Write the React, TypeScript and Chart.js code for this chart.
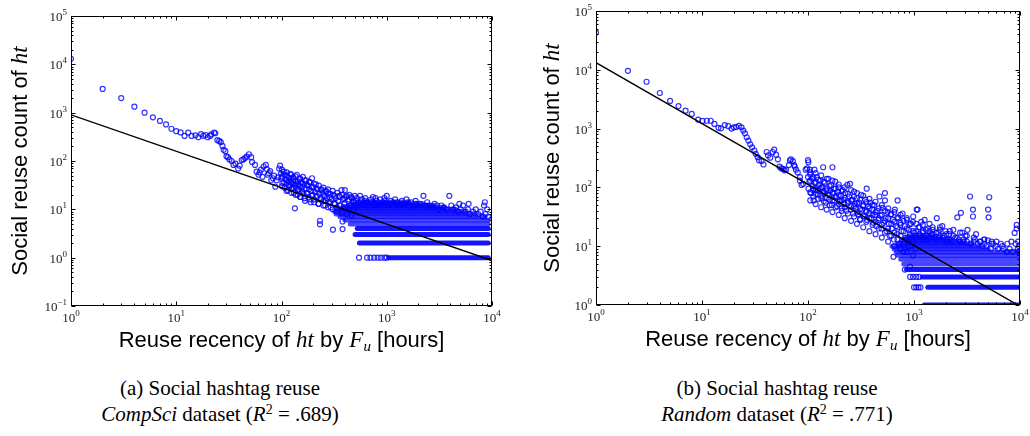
import React, { useEffect, useRef } from "react";
import { Chart, registerables } from "chart.js";
Chart.register(...registerables);

// ---------- tick exponents ----------
const xTickExponents = [0, 1, 2, 3, 4];
const compSciYExponents = [-1, 0, 1, 2, 3, 4, 5];
const randomYExponents = [0, 1, 2, 3, 4, 5];

// ---------- (a) CompSci dataset ----------
const compSciHead: [number, number][] = [
  [1, 13000], [2, 3100], [3, 2000], [4, 1330], [5, 1000], [6, 800], [7, 675], [8, 570], [9, 465], [10, 415],
  [11, 390], [12, 330], [13, 385], [14, 330], [15.2, 340], [16.2, 310], [17.2, 360], [18.1, 330], [19, 345], [19.9, 310],
  [21, 330], [21.5, 355], [22.9, 385], [23.5, 375], [24.6, 270], [25.6, 260], [26.5, 245], [27.5, 205], [28.2, 170], [29.3, 160],
  [30, 125], [31, 120], [32, 108], [33.6, 100], [35, 83], [36.5, 88], [38.7, 70], [40, 80], [41.9, 105], [43.5, 108],
  [45, 115], [46.7, 123], [49, 138], [51.5, 120], [52.5, 95], [56, 83], [58, 60], [60.5, 52], [62, 58], [64, 66],
  [66, 47], [67.6, 77], [71, 83], [72.5, 68], [74, 52], [76, 56], [78, 62], [80, 40], [83, 44], [85, 50],
  [87.4, 29.4], [90, 40], [93, 46], [95, 70], [97, 80], [99, 55],
];
const compSciCloud: [number, number][] = [
  [100, 45], [102, 35], [105, 60], [107, 28], [109, 42], [111, 33], [113, 50], [115, 25], [117, 38], [119, 30],
  [121, 54], [123, 40], [125, 27], [127, 34], [129, 46], [131, 22], [133, 31], [134, 10.5], [136, 38], [138, 28],
  [140, 52], [142, 20], [144, 33], [146, 26], [148, 42], [150, 30], [152, 18], [154, 36], [156, 24], [158, 29],
  [160, 47], [162, 21], [165, 33], [167, 15], [170, 27], [172, 40], [175, 22], [178, 31], [180, 18], [183, 26],
  [186, 36], [189, 14], [192, 24], [195, 44], [198, 20], [201, 29], [204, 16], [208, 23], [212, 33], [216, 19],
  [220, 26], [224, 13], [228, 21], [232, 5.8], [232, 4.9], [236, 17], [240, 26], [245, 22], [250, 15], [255, 19],
  [260, 12], [265, 24], [270, 17], [276, 21], [282, 14], [288, 18], [294, 11], [300, 16], [308, 3.8], [310, 20],
  [318, 13], [326, 17], [335, 11], [345, 15], [355, 19], [365, 12], [372, 25], [380, 5.6], [380, 3.9], [385, 16],
  [395, 13], [400, 25], [410, 18], [420, 11], [430, 15], [440, 20], [452, 12], [465, 17], [480, 14], [495, 19],
  [510, 15], [530, 12], [557, 19], [580, 16], [600, 13], [625, 17], [650, 14], [680, 12], [710, 16], [740, 18],
  [770, 13], [800, 15], [830, 12], [870, 16], [910, 14], [950, 17], [1000, 19], [1040, 13], [1090, 15], [1140, 12],
  [1200, 16], [1260, 14], [1320, 12], [1390, 15], [1460, 13], [1540, 16], [1620, 12], [1700, 14], [1790, 12], [1880, 15],
  [1980, 12], [2080, 13], [2230, 19], [2300, 12], [2420, 14], [2550, 12], [2700, 11], [2850, 13], [3000, 12], [3150, 10],
  [3300, 12], [3500, 11], [3700, 10], [3930, 19], [4100, 12], [4300, 10], [4550, 11], [4800, 9], [4900, 13], [5050, 10],
  [5300, 12], [5600, 9], [5900, 10], [6000, 13], [6200, 8], [6600, 9], [7000, 10], [7400, 8], [7800, 9], [8200, 7],
  [8400, 12], [8550, 14], [8700, 8], [9000, 10], [9200, 7],
  [545, 1], [650, 1], [700, 1], [760, 1], [820, 1], [880, 1], [950, 1], [1000, 1],
];
const compSciCore: [number, number][] = [
  [101, 30], [101, 48], [101, 66], [106, 36], [106, 52], [112, 24], [112, 40], [112, 58], [118, 32], [118, 45],
  [124, 22], [124, 36], [124, 52], [130, 28], [130, 42], [136, 20], [136, 33], [136, 48], [143, 25], [143, 38],
  [150, 18], [150, 44], [158, 22], [158, 34], [166, 17], [166, 40], [175, 21], [175, 32], [184, 16], [184, 37],
  [194, 19], [194, 29], [204, 14], [204, 34], [215, 18], [215, 27], [226, 13], [226, 31], [238, 16], [238, 25],
  [250, 12], [250, 28], [263, 15], [263, 23], [277, 11], [277, 26], [291, 14], [291, 21], [306, 10], [306, 24],
  [322, 13], [322, 19], [339, 9], [339, 22], [357, 12], [357, 18], [375, 8.5], [375, 20], [395, 11], [395, 17],
  [416, 8], [416, 19], [438, 10], [438, 16], [461, 7.5], [461, 18], [485, 9.5], [485, 15], [520, 17], [560, 14],
  [620, 15], [700, 14], [780, 17], [880, 13], [960, 15], [1150, 14], [1350, 13], [1600, 14], [1900, 13], [2400, 12],
];
// [count, first hour, last hour] of the dense integer-count rows
const compSciRows: [number, number, number][] = [
  [1, 1050, 9200], [2, 550, 9200], [3, 500, 9200], [4, 525, 9200], [5, 450, 9200], [6, 400, 9200],
  [7, 360, 8500], [8, 330, 7000], [9, 320, 5500], [10, 330, 4500], [11, 380, 3500], [12, 430, 2800],
  [13, 480, 2200], [14, 540, 1600],
];
const compSciFit: [number, number][] = [[1, 900], [10000, 0.87]];

// ---------- (b) Random dataset ----------
const randomHead: [number, number][] = [
  [1, 43000], [2, 9600], [3, 6260], [4, 4030], [5, 2950], [6, 2420], [7, 2020], [8, 1775], [9.2, 1420], [10.1, 1350],
  [11.1, 1360], [12.1, 1360], [13.1, 1200], [14.3, 1030], [15.1, 1010], [16.4, 1150], [17.7, 1100], [19, 1000], [20, 1050], [21, 1060],
  [22.3, 1110], [23.6, 1050], [24.5, 925], [25.4, 830], [26.4, 713], [27.4, 625], [28.5, 540], [29.7, 480], [31.2, 424], [32.1, 372],
  [33.5, 327], [34.5, 290], [36.5, 280], [38, 245], [40.7, 400], [42, 350], [44, 320], [46.5, 400], [48, 440], [50, 360],
  [52, 300], [54, 225], [56, 210], [58, 207], [60, 195], [62, 200], [66, 240], [67.5, 287], [69, 300], [72, 280],
  [74, 240], [75, 225], [77, 200], [80, 180], [84, 150], [84, 130], [87, 110], [90, 115], [95, 200], [98, 210],
];
const randomCloud: [number, number][] = [
  [100, 290], [100, 150], [101, 268], [101, 95], [103, 125], [104, 200], [105, 180], [107, 80], [109, 140], [111, 105],
  [112, 89], [113, 60], [115, 200], [117, 120], [119, 90], [121, 150], [124, 75], [126, 110], [129, 95], [131, 130],
  [134, 65], [137, 100], [139, 220], [141, 85], [144, 120], [147, 55], [150, 95], [153, 75], [156, 140], [159, 62],
  [162, 88], [165, 110], [168, 50], [170, 220], [172, 78], [175, 95], [178, 60], [181, 125], [185, 70], [188, 48],
  [192, 85], [196, 100], [200, 58], [204, 72], [208, 44], [212, 90], [216, 62], [220, 52], [225, 80], [230, 40],
  [235, 110], [240, 58], [245, 70], [249, 115], [254, 48], [260, 62], [266, 36], [272, 85], [278, 52], [284, 44],
  [290, 66], [296, 35], [303, 55], [310, 28], [317, 75], [324, 42], [331, 50], [338, 32], [346, 62], [354, 40],
  [358, 95], [362, 28], [370, 48], [378, 36], [386, 55], [395, 30], [404, 42], [413, 25], [422, 50], [432, 34],
  [442, 22], [452, 40], [462, 28], [472, 70], [483, 33], [494, 20], [505, 45], [516, 25], [532, 80], [532, 60],
  [540, 30], [552, 18], [565, 38], [578, 24], [590, 15], [604, 35], [618, 20], [632, 28], [640, 6.6], [646, 13],
  [660, 42], [676, 22], [692, 16], [700, 60], [710, 30], [727, 11], [744, 25], [762, 18], [780, 36], [798, 8],
  [816, 22], [835, 14], [855, 28], [875, 10], [895, 19], [915, 4.5], [937, 24], [960, 13], [983, 32], [1006, 17],
  [1030, 9], [1060, 42], [1080, 42], [1100, 21], [1130, 15], [1170, 26], [1210, 18], [1260, 28], [1300, 13], [1350, 20],
  [1400, 24], [1450, 16], [1500, 19], [1560, 14], [1640, 30], [1700, 17], [1760, 21], [1850, 22], [1900, 15], [1980, 18],
  [2050, 13], [2150, 16], [2250, 12], [2350, 19], [2450, 14], [2560, 31], [2650, 13], [2770, 37], [2850, 17], [2950, 12],
  [3050, 15], [3200, 19], [3380, 70], [3450, 11], [3600, 42], [3600, 32], [3750, 13], [3850, 16], [4000, 11], [4200, 12],
  [4400, 10], [4600, 13], [4800, 10], [4960, 12.6], [5000, 42], [5050, 31], [5130, 68], [5300, 9], [5600, 11], [5900, 10],
  [6200, 9], [6600, 11], [7000, 9], [7500, 8], [8000, 9], [8500, 8], [8900, 16.8], [9300, 23], [9300, 20], [9500, 9],
  [9700, 8], [9800, 10],
  [820, 4], [920, 3], [980, 3], [1050, 3], [1120, 3], [1000, 2], [1050, 2], [1100, 2], [1150, 2],
];
const randomCore: [number, number][] = [
  [105, 60], [105, 82], [105, 130], [105, 165], [112, 70], [112, 95], [112, 150], [118, 52], [118, 78], [118, 118],
  [118, 175], [125, 64], [125, 88], [125, 135], [133, 46], [133, 72], [133, 100], [133, 160], [141, 58], [141, 80],
  [141, 125], [150, 42], [150, 66], [150, 88], [150, 140], [160, 50], [160, 75], [160, 105], [170, 38], [170, 60],
  [170, 82], [170, 130], [182, 46], [182, 68], [182, 95], [195, 34], [195, 52], [195, 74], [195, 112], [208, 40],
  [208, 60], [208, 86], [222, 30], [222, 46], [222, 66], [222, 100], [238, 36], [238, 54], [238, 78], [255, 27],
  [255, 42], [255, 60], [255, 90], [272, 32], [272, 48], [272, 70], [290, 24], [290, 38], [290, 54], [290, 80],
  [310, 29], [310, 43], [310, 62], [332, 21], [332, 33], [332, 48], [332, 72], [355, 26], [355, 38], [355, 56],
  [380, 18], [380, 30], [380, 44], [380, 64], [406, 23], [406, 34], [406, 50], [434, 16], [434, 26], [434, 38],
  [434, 57], [465, 20], [465, 30], [465, 44], [497, 14], [497, 23], [497, 34], [497, 50], [532, 17], [532, 27],
  [532, 40], [570, 12], [570, 20], [570, 30], [570, 44], [610, 15], [610, 24], [610, 35], [652, 10], [652, 17],
  [652, 26], [652, 38], [698, 13], [698, 21], [698, 31], [746, 9], [746, 15], [746, 23], [746, 34], [798, 11],
  [798, 18], [798, 27], [854, 8], [854, 13], [854, 20], [854, 30], [914, 10], [914, 16], [914, 24], [978, 7],
  [978, 12], [978, 18], [978, 26], [1050, 14], [1050, 18], [1050, 24], [1130, 16], [1130, 21], [1210, 13], [1210, 17],
  [1210, 23], [1300, 15], [1300, 19], [1400, 14], [1400, 18], [1500, 16], [1500, 21], [1620, 13], [1620, 17], [1750, 15],
  [1750, 19], [1880, 14], [2020, 12], [2020, 16], [2180, 13], [2180, 18], [2350, 15], [2530, 14], [2720, 12], [2720, 17],
  [2930, 13], [3150, 12], [3150, 15], [3660, 12], [3660, 14], [4250, 12], [4600, 11], [4600, 13], [5400, 11], [5400, 12],
  [6000, 12], [6800, 10], [7600, 11], [8300, 12], [9100, 11], [9600, 12],
];
const randomRows: [number, number, number][] = [
  [1, 1250, 10000], [2, 1350, 9800], [3, 1200, 9800], [4, 850, 9800], [5, 800, 9800], [6, 750, 9800],
  [7, 700, 9800], [8, 680, 7000], [8, 7500, 9800], [9, 650, 5000], [10, 620, 4200], [11, 700, 3500],
  [12, 750, 2800], [13, 800, 2200], [14, 850, 1800], [15, 900, 1500],
];
const randomFit: [number, number][] = [[1, 13200], [10000, 0.95]];

// ---------- text ----------
const SERIF = '"Liberation Serif", "DejaVu Serif", serif';
const SANS = '"Liberation Sans", Arial, sans-serif';

type Seg = { t: string; font: string; dy?: number };

const xTitle: Seg[] = [
  { t: "Reuse recency of ", font: `22px ${SANS}` },
  { t: "ht", font: `italic 23px ${SERIF}` },
  { t: " by ", font: `22px ${SANS}` },
  { t: "F", font: `italic 23px ${SERIF}` },
  { t: "u", font: `italic 15px ${SERIF}`, dy: 4 },
  { t: " [hours]", font: `22px ${SANS}` },
];
const yTitle: Seg[] = [
  { t: "Social reuse count of ", font: `22px ${SANS}` },
  { t: "ht", font: `italic 23px ${SERIF}` },
];

function drawSegs(ctx: CanvasRenderingContext2D, segs: Seg[], x: number, y: number, align: string) {
  let total = 0;
  const widths: number[] = [];
  for (const s of segs) {
    ctx.font = s.font;
    const w = ctx.measureText(s.t).width;
    widths.push(w);
    total += w;
  }
  let cx = align === "center" ? x - total / 2 : align === "right" ? x - total : x;
  ctx.textAlign = "left";
  ctx.textBaseline = "alphabetic";
  segs.forEach((s, i) => {
    ctx.font = s.font;
    ctx.fillText(s.t, cx, y + (s.dy || 0));
    cx += widths[i];
  });
}

function tickLabel(exp: number): Seg[] {
  const e = exp < 0 ? "\u2212" + Math.abs(exp) : String(exp);
  return [
    { t: "10", font: `13px ${SERIF}` },
    { t: e, font: `9px ${SERIF}`, dy: -6 },
  ];
}

function makeAxesPlugin(yExps: number[], yTitleX: number) {
  return {
    id: "mplAxes",
    afterDraw(chart: any) {
      const { ctx, chartArea: a } = chart;
      const xs = chart.scales.x;
      const ys = chart.scales.y;
      ctx.save();
      ctx.strokeStyle = "#000";
      ctx.lineWidth = 1;
      const L = Math.round(a.left) + 0.5;
      const R = Math.round(a.right) - 0.5;
      const T = Math.round(a.top) + 0.5;
      const B = Math.round(a.bottom) - 0.5;
      ctx.strokeRect(L, T, R - L, B - T);

      const line = (x1: number, y1: number, x2: number, y2: number) => {
        ctx.beginPath();
        ctx.moveTo(x1, y1);
        ctx.lineTo(x2, y2);
        ctx.stroke();
      };
      const xTick = (v: number, len: number) => {
        const p = Math.round(xs.getPixelForValue(v)) + 0.5;
        line(p, B, p, B - len);
        line(p, T, p, T + len);
      };
      const yTick = (v: number, len: number) => {
        const p = Math.round(ys.getPixelForValue(v)) + 0.5;
        line(L, p, L + len, p);
        line(R, p, R - len, p);
      };
      const minors = (exps: number[], fn: (v: number, l: number) => void) => {
        for (let i = 0; i < exps.length - 1; i++) {
          for (let k = 2; k <= 9; k++) fn(k * Math.pow(10, exps[i]), 2);
        }
        exps.forEach((e) => fn(Math.pow(10, e), 4));
      };
      minors(xTickExponents, xTick);
      minors(yExps, yTick);

      ctx.fillStyle = "#222";
      xTickExponents.forEach((e) => {
        drawSegs(ctx, tickLabel(e), xs.getPixelForValue(Math.pow(10, e)), a.bottom + 16, "center");
      });
      yExps.forEach((e) => {
        drawSegs(ctx, tickLabel(e), a.left - 4, ys.getPixelForValue(Math.pow(10, e)) + 5, "right");
      });

      ctx.fillStyle = "#000";
      drawSegs(ctx, xTitle, (a.left + a.right) / 2, a.bottom + 41, "center");
      ctx.translate(yTitleX, (a.top + a.bottom) / 2);
      ctx.rotate(-Math.PI / 2);
      drawSegs(ctx, yTitle, 0, 0, "center");
      ctx.restore();
    },
  };
}

type PanelProps = {
  points: [number, number][];
  rows: [number, number, number][];
  fit: [number, number][];
  yExps: number[];
  left: number;
  padding: { left: number; top: number; right: number; bottom: number };
  yTitleX: number;
};

const CW = 515;
const CH = 365;

function Panel({ points, rows, fit, yExps, left, padding, yTitleX }: PanelProps) {
  const ref = useRef<HTMLCanvasElement | null>(null);
  useEffect(() => {
    if (!ref.current) return;
    const pts = points.map(([x, y]) => ({ x, y }));
    const datasets: any[] = [
      {
        data: fit.map(([x, y]) => ({ x, y })),
        showLine: true,
        borderColor: "#000",
        borderWidth: 1.4,
        pointRadius: 0,
        order: 0,
        clip: 0,
      },
      ...rows.map(([y, x0, x1]) => ({
        data: [{ x: x0, y }, { x: x1, y }],
        showLine: true,
        borderColor: y <= 4 ? "rgba(0,0,255,0.92)" : "rgba(0,0,255,0.72)",
        borderWidth: 5,
        borderCapStyle: "round",
        pointRadius: 0,
        order: 2,
        clip: 0,
      })),
      {
        data: pts,
        showLine: false,
        pointRadius: 2.5,
        pointBorderWidth: 1.2,
        pointBorderColor: "rgba(0,0,255,0.8)",
        pointBackgroundColor: "rgba(0,0,0,0)",
        order: 1,
        clip: 0,
      },
    ];
    const chart = new Chart(ref.current, {
      type: "scatter",
      data: { datasets },
      options: {
        responsive: false,
        maintainAspectRatio: false,
        animation: false,
        events: [],
        layout: { padding },
        plugins: { legend: { display: false }, tooltip: { enabled: false } },
        scales: {
          x: { type: "logarithmic", min: 1, max: 10000, display: false },
          y: {
            type: "logarithmic",
            min: Math.pow(10, yExps[0]),
            max: Math.pow(10, yExps[yExps.length - 1]),
            display: false,
          },
        },
      } as any,
      plugins: [makeAxesPlugin(yExps, yTitleX)],
    });
    return () => chart.destroy();
  }, []);
  return (
    <canvas
      ref={ref}
      width={CW}
      height={CH}
      style={{ position: "absolute", left, top: 0, width: CW, height: CH }}
    />
  );
}

const captionStyle: React.CSSProperties = {
  position: "absolute",
  top: 375,
  width: 440,
  textAlign: "center",
  fontFamily: SERIF,
  fontSize: 21,
  lineHeight: "26px",
  color: "#000",
};
const supStyle: React.CSSProperties = { fontSize: 14, lineHeight: 0, verticalAlign: "7px" };

export default function App() {
  return (
    <div style={{ position: "absolute", left: 0, top: 0, width: 1030, height: 436, background: "#fff", overflow: "hidden" }}>
      <Panel
        points={[...compSciHead, ...compSciCloud, ...compSciCore]}
        rows={compSciRows}
        fit={compSciFit}
        yExps={compSciYExponents}
        left={0}
        padding={{ left: 71, top: 16, right: 23, bottom: 59 }}
        yTitleX={27}
      />
      <Panel
        points={[...randomHead, ...randomCloud, ...randomCore]}
        rows={randomRows}
        fit={randomFit}
        yExps={randomYExponents}
        left={515}
        padding={{ left: 81, top: 11, right: 10, bottom: 60 }}
        yTitleX={44}
      />
      <div style={{ ...captionStyle, left: 0 }}>
        (a) Social hashtag reuse
        <br />
        <i>CompSci</i> dataset (<i>R</i>
        <sup style={supStyle}>2</sup> = .689)
      </div>
      <div style={{ ...captionStyle, left: 557 }}>
        (b) Social hashtag reuse
        <br />
        <i>Random</i> dataset (<i>R</i>
        <sup style={supStyle}>2</sup> = .771)
      </div>
    </div>
  );
}
